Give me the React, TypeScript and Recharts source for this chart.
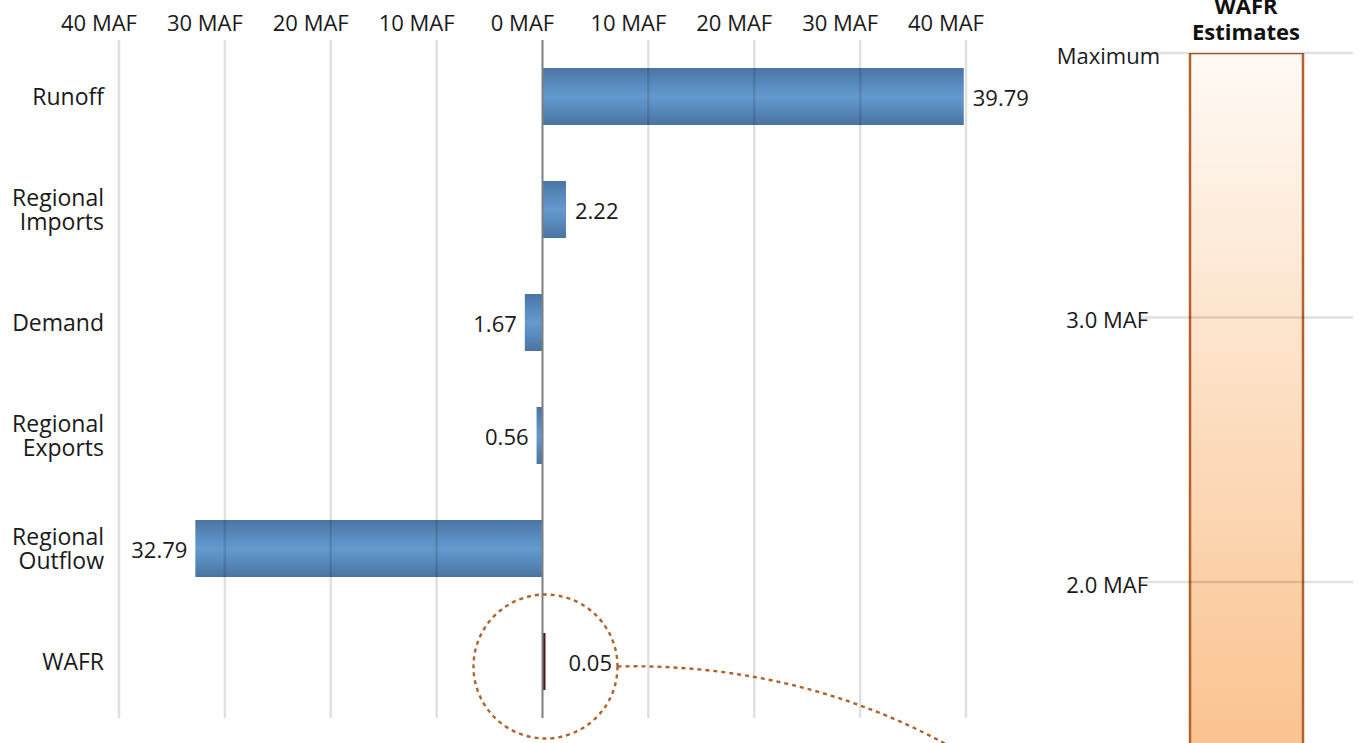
import { BarChart, Bar, XAxis, YAxis, Cell, LabelList, ReferenceLine, ReferenceDot } from 'recharts';

const categories = ['Runoff', 'Regional Imports', 'Demand', 'Regional Exports', 'Regional Outflow', 'WAFR'];
const values = [39.79, 2.22, -1.67, -0.56, -32.79, 0.05];
const xTicks = [-40, -30, -20, -10, 0, 10, 20, 30, 40];

const estimateTicks = [2, 3, 4];
const estimateLabels = ['2.0 MAF', '3.0 MAF', 'Maximum'];
const estimateMax = 4;

const FONT = '"Open Sans", "Noto Sans", sans-serif';

const data = categories.map((name, i) => ({ name, value: values[i] }));
const estData = [{ name: 'WAFR Estimates', value: estimateMax }];

const TopTick = (props: any) => {
  const { x, y, payload } = props;
  return (
    <text x={x - 20} y={y - 18} textAnchor="middle" dominantBaseline="central" fontSize={22} fill="#1a1a1a" fontFamily={FONT}>
      {`${Math.abs(payload.value)} MAF`}
    </text>
  );
};

const CategoryTick = (props: any) => {
  const { x, y, payload } = props;
  const words = String(payload.value).split(' ');
  const lh = 24;
  const y0 = y - ((words.length - 1) * lh) / 2 - 1;
  return (
    <text textAnchor="end" dominantBaseline="central" fontSize={23} fill="#1a1a1a" fontFamily={FONT}>
      {words.map((w, i) => (
        <tspan key={i} x={x - 15} y={y0 + i * lh}>{w}</tspan>
      ))}
    </text>
  );
};

const ValueLabel = (props: any) => {
  const { x, y, width, height, value } = props;
  const left = Math.min(x, x + width);
  const right = Math.max(x, x + width);
  const pos = value >= 0;
  // tiny bars keep their label a little clear of the zero line
  const lx = pos ? left + Math.max(right - left, 17) + 9 : left - 8;
  return (
    <text
      x={lx}
      y={y + height / 2}
      textAnchor={pos ? 'start' : 'end'}
      dominantBaseline="central"
      fontSize={22}
      fill="#1a1a1a"
      fontFamily={FONT}
    >
      {Math.abs(value).toFixed(2)}
    </text>
  );
};

// dashed circle round the WAFR bar plus the connector toward the estimates bar
const Callout = (props: any) => {
  const { cx, cy, r } = props;
  const x0 = cx + 3;
  const y0 = cy + 5;
  const sx = x0 + r;
  return (
    <g>
      <circle cx={x0} cy={y0} r={r} fill="none" stroke="#b0622c" strokeWidth={2.4} strokeDasharray="4 4" />
      <path
        d={`M ${sx} ${y0} C ${sx + 130} ${y0 - 3}, ${sx + 250} ${y0 + 30}, ${sx + 350} ${y0 + 90}`}
        fill="none"
        stroke="#b0622c"
        strokeWidth={2.4}
        strokeDasharray="4 4"
      />
    </g>
  );
};

const EstTick = (props: any) => {
  const { x, y, payload } = props;
  const idx = estimateTicks.indexOf(payload.value);
  const label = estimateLabels[idx];
  return (
    <text x={x + (label === 'Maximum' ? 20 : 8)} y={y + 2} textAnchor="end" dominantBaseline="central" fontSize={22} fill="#1a1a1a" fontFamily={FONT}>
      {label}
    </text>
  );
};

export default function App() {
  return (
    <div style={{ position: 'absolute', left: 0, top: 0, width: 1363, height: 743, overflow: 'hidden', background: '#fff' }}>
      <div style={{ position: 'absolute', left: 0, top: 0 }}>
        <BarChart width={1050} height={743} data={data} layout="vertical" margin={{ top: 0, right: 84, bottom: 25, left: 0 }}>
          <defs>
            <linearGradient id="blueGrad" x1="0" y1="0" x2="0" y2="1">
              <stop offset="0%" stopColor="#4a75a4" />
              <stop offset="35%" stopColor="#5c90c4" />
              <stop offset="50%" stopColor="#6499cd" />
              <stop offset="65%" stopColor="#5c90c4" />
              <stop offset="100%" stopColor="#4a73a1" />
            </linearGradient>
          </defs>
          <XAxis
            type="number"
            orientation="top"
            domain={[-40, 40]}
            ticks={xTicks}
            height={40}
            axisLine={false}
            tickLine={false}
            tickSize={0}
            tickMargin={0}
            tick={<TopTick />}
            interval={0}
          />
          <YAxis
            type="category"
            dataKey="name"
            width={119}
            axisLine={false}
            tickLine={false}
            tickSize={0}
            tickMargin={0}
            tick={<CategoryTick />}
            interval={0}
          />
          <Bar dataKey="value" barSize={57} minPointSize={3} isAnimationActive={false}>
            {data.map((d) => (
              <Cell key={d.name} fill={d.name === 'WAFR' ? '#4a1a12' : 'url(#blueGrad)'} />
            ))}
            <LabelList dataKey="value" content={<ValueLabel />} />
          </Bar>
          {xTicks.filter((t) => t !== 0).map((t) => (
            <ReferenceLine key={t} x={t} stroke="#000" strokeOpacity={0.12} strokeWidth={2.5} />
          ))}
          <ReferenceLine x={0} stroke="#7f7f7f" strokeWidth={2} />
          <ReferenceDot x={0} y="WAFR" r={72} ifOverflow="visible" shape={<Callout />} />
        </BarChart>
      </div>

      <div style={{ position: 'absolute', left: 1040, top: 0 }}>
        <BarChart width={323} height={820} data={estData} margin={{ top: 53, right: 10, bottom: 0, left: 0 }}>
          <defs>
            <linearGradient id="orangeGrad" x1="0" y1="0" x2="0" y2="1">
              <stop offset="0%" stopColor="#fffaf5" />
              <stop offset="100%" stopColor="#fabd85" />
            </linearGradient>
          </defs>
          <XAxis dataKey="name" hide />
          <YAxis
            type="number"
            domain={[1.1, estimateMax]}
            ticks={estimateTicks}
            allowDataOverflow
            width={100}
            axisLine={false}
            tickLine={false}
            tickSize={0}
            tickMargin={0}
            tick={<EstTick />}
            interval={0}
          />
          <Bar dataKey="value" barSize={113} fill="url(#orangeGrad)" stroke="#b2622c" strokeWidth={2.5} isAnimationActive={false} />
          {estimateTicks.map((t) => (
            <ReferenceLine key={t} y={t} stroke="#000" strokeOpacity={0.12} strokeWidth={2.5} />
          ))}
        </BarChart>
      </div>

      <div
        style={{
          position: 'absolute',
          left: 1146,
          top: -8,
          width: 200,
          textAlign: 'center',
          fontFamily: FONT,
          fontWeight: 700,
          fontSize: 22,
          lineHeight: '26px',
          color: '#111',
        }}
      >
        WAFR
        <br />
        Estimates
      </div>
    </div>
  );
}
